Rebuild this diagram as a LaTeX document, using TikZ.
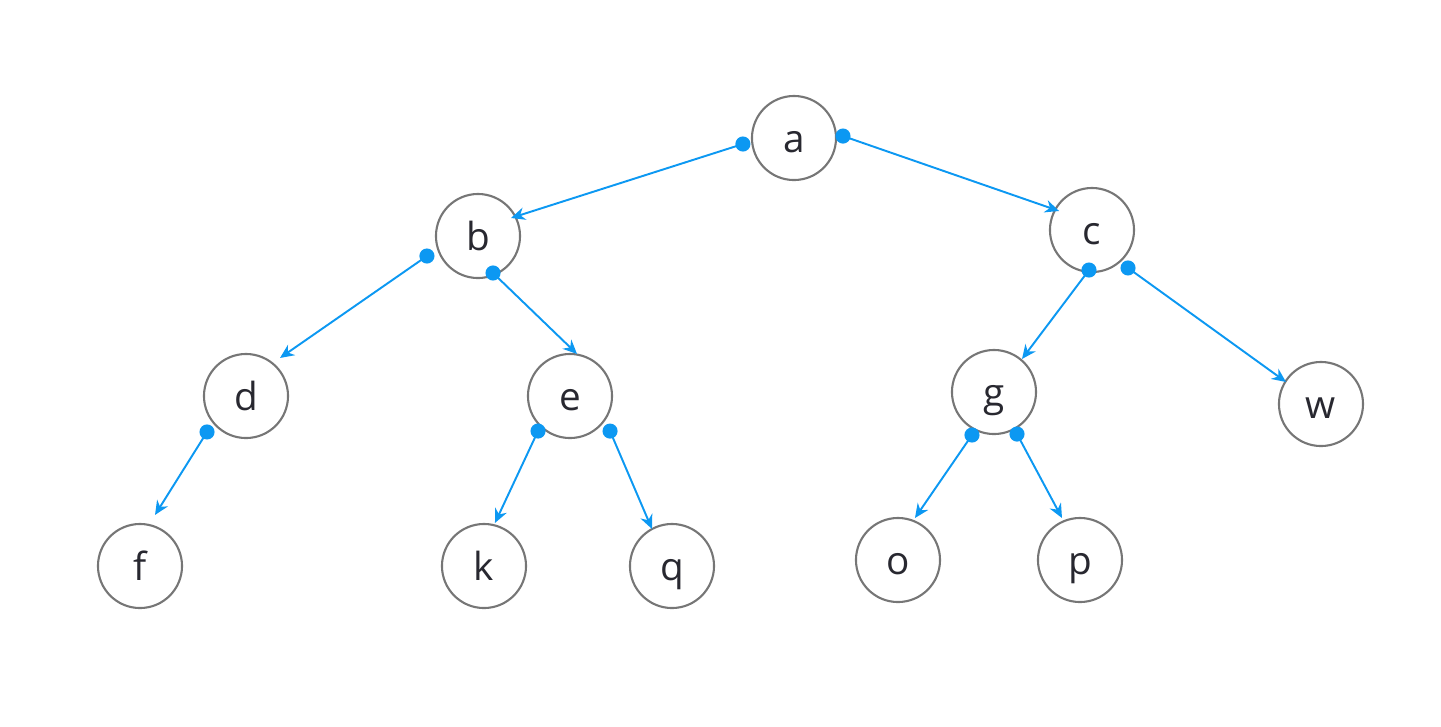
\documentclass[tikz,border=0pt]{standalone}
\usepackage{fontspec}
\setmainfont{Open Sans}
\usepackage{xcolor}
\usepackage{tikz}
\usetikzlibrary{arrows.meta, calc}

\definecolor{linkblue}{RGB}{12,152,242}
\definecolor{ringgray}{RGB}{118,118,118}
\definecolor{letter}{RGB}{40,40,48}

\tikzset{
    vertex/.style={circle, draw=ringgray, line width=0.6pt, minimum size=0.84cm,
        inner sep=0pt, text=letter, font=\fontsize{11}{13}\selectfont,
        text height=8.4pt, text depth=0pt},
    link/.style={draw=linkblue, line width=0.55pt,
        -{Stealth[length=4pt, width=3.6pt, inset=1.3pt]}},
    knob/.style={fill=linkblue}
}

\begin{document}
\begin{tikzpicture}[x=0.01cm, y=-0.01cm]
    \useasboundingbox (0,0) rectangle (1441,726);

    \foreach \name/\x/\y in {
        a/794/138,
        b/478/236,
        c/1092/230,
        d/246/396,
        e/570/396,
        g/994/392,
        w/1321/404,
        f/140/566,
        k/484/566,
        q/672/566,
        o/898/560,
        p/1080/560
    }{
        \node[vertex] (\name) at (\x,\y) {\name};
    }

    % parent/angle/radius -> child/angle/radius
    \foreach \from/\sa/\sr/\to/\ta/\tr in {
        a/186.7/0.514/b/28.6/0.376,
        a/2.3/0.49/c/150/0.38,
        b/201.4/0.548/d/48.2/0.51,
        b/292.1/0.399/e/80.5/0.426,
        c/265.7/0.401/g/49.7/0.433,
        c/313.5/0.523/w/147.8/0.413,
        d/222.7/0.53/f/73.6/0.532,
        e/227.6/0.474/k/75.7/0.444,
        e/318.8/0.532/q/118.4/0.421,
        g/242.9/0.483/o/68/0.453,
        g/298.7/0.479/p/113.2/0.457
    }{
        \draw[link] ($(\from)+(\sa:\sr cm)$) -- ($(\to)+(\ta:\tr cm)$);
        \fill[knob] ($(\from)+(\sa:\sr cm)$) circle (2.15pt);
    }
\end{tikzpicture}
\end{document}
